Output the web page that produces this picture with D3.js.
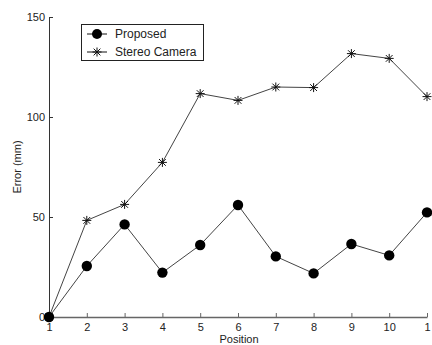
<!DOCTYPE html>
<html>
<head>
  <meta charset="utf-8">
  <title>Error by Position</title>
  <script src="https://d3js.org/d3.v7.min.js"></script>
  <style>
    body { margin: 0; background: #fff; }
    text { font-family: "Liberation Sans", Arial, sans-serif; font-size: 11px; fill: #222; }
  </style>
</head>
<body>
  <svg id="chart" width="432" height="345"></svg>
  <script>
    // data
    var positions = [1, 2, 3, 4, 5, 6, 7, 8, 9, 10, 11];
    var xTickLabels = ["1", "2", "3", "4", "5", "6", "7", "8", "9", "10", "1"];
    var proposed = [0, 25.5, 46.3, 22.2, 36, 56, 30.3, 21.8, 36.5, 30.8, 52.3];
    var stereo = [0, 48.3, 56.3, 77.3, 111.7, 108.3, 115, 114.7, 131.7, 129.3, 110.2];
    var yTicks = [0, 50, 100, 150];
    var seriesNames = ["Proposed", "Stereo Camera"];

    var svg = d3.select("#chart");

    var x = d3.scaleLinear().domain([1, 11]).range([49, 427]);
    var y = d3.scaleLinear().domain([0, 150]).range([317, 17]);

    var axisColor = "#666";

    // x axis (ticks point inward)
    var gx = svg.append("g").attr("transform", "translate(0," + y(0) + ")")
      .call(d3.axisBottom(x).tickValues(positions).tickSizeInner(-4).tickSizeOuter(0)
        .tickFormat(function(d, i) { return xTickLabels[i]; }));
    gx.select(".domain").attr("stroke", axisColor).attr("stroke-width", 1.5);
    gx.selectAll(".tick line").attr("stroke", axisColor);
    gx.selectAll(".tick text").attr("y", 6).attr("font-size", 11).attr("font-family", null);

    // y axis
    var gy = svg.append("g").attr("transform", "translate(" + x(1) + ",0)")
      .call(d3.axisLeft(y).tickValues(yTicks).tickSizeInner(-4).tickSizeOuter(0));
    gy.select(".domain").attr("stroke", "#333").attr("stroke-width", 1);
    gy.selectAll(".tick line").attr("stroke", "#333");
    gy.selectAll(".tick text").attr("x", -4).attr("font-size", 11).attr("font-family", null);

    // axis titles
    svg.append("text").attr("x", 239).attr("y", 343).attr("text-anchor", "middle").text("Position");
    svg.append("text").attr("transform", "translate(21,167) rotate(-90)")
      .attr("text-anchor", "middle").text("Error (mm)");

    var line = d3.line()
      .x(function(d, i) { return x(positions[i]); })
      .y(function(d) { return y(d); });

    // MATLAB style '*' marker
    function star(cx, cy, r) {
      var p = d3.path();
      p.moveTo(cx - r, cy); p.lineTo(cx + r, cy);
      p.moveTo(cx, cy - r); p.lineTo(cx, cy + r);
      var k = r * 0.75;
      p.moveTo(cx - k, cy - k); p.lineTo(cx + k, cy + k);
      p.moveTo(cx - k, cy + k); p.lineTo(cx + k, cy - k);
      return p.toString();
    }

    // stereo camera series
    svg.append("path").datum(stereo).attr("d", line)
      .attr("fill", "none").attr("stroke", "#444").attr("stroke-width", 1);
    svg.selectAll(".star").data(stereo).enter().append("path")
      .attr("class", "star")
      .attr("d", function(d, i) { return star(x(positions[i]), y(d), 4.5); })
      .attr("stroke", "#111").attr("stroke-width", 1).attr("fill", "none");

    // proposed series
    svg.append("path").datum(proposed).attr("d", line)
      .attr("fill", "none").attr("stroke", "#444").attr("stroke-width", 1);
    svg.selectAll(".dot").data(proposed).enter().append("circle")
      .attr("class", "dot")
      .attr("cx", function(d, i) { return x(positions[i]); })
      .attr("cy", function(d) { return y(d); })
      .attr("r", 5.2)
      .attr("fill", "#000");

    // legend
    var lg = svg.append("g");
    lg.append("rect").attr("x", 81.5).attr("y", 24.5).attr("width", 122).attr("height", 36)
      .attr("fill", "#fff").attr("stroke", "#222").attr("stroke-width", 1);
    seriesNames.forEach(function(name, i) {
      var ly = 34 + i * 18;
      lg.append("line").attr("x1", 87).attr("x2", 107).attr("y1", ly).attr("y2", ly)
        .attr("stroke", "#111").attr("stroke-width", 1);
      if (i === 0) {
        lg.append("circle").attr("cx", 97).attr("cy", ly).attr("r", 5).attr("fill", "#000");
      } else {
        lg.append("path").attr("d", star(97, ly, 4.5)).attr("stroke", "#111").attr("fill", "none");
      }
      lg.append("text").attr("x", 115).attr("y", ly + 4).style("font-size", "12px").text(name);
    });
  </script>
</body>
</html>
